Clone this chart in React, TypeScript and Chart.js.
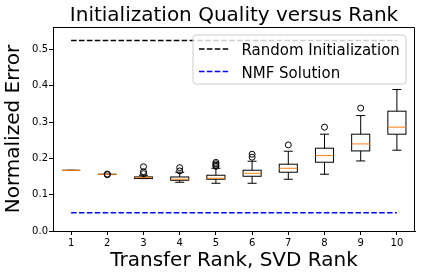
import React, { useEffect, useRef } from 'react';
import { Chart, registerables } from 'chart.js';
Chart.register(...registerables);

const FONT = 'DejaVu Sans';

const ranks = [1, 2, 3, 4, 5, 6, 7, 8, 9, 10];
const whiskerLow = [0.167, 0.156, 0.1445, 0.1343, 0.1315, 0.1315, 0.1426, 0.1564, 0.193, 0.2226];
const q1 = [0.167, 0.156, 0.1445, 0.1398, 0.1426, 0.1508, 0.1619, 0.1895, 0.2206, 0.2667];
const medians = [0.167, 0.156, 0.147, 0.1426, 0.1453, 0.159, 0.1729, 0.2077, 0.2399, 0.286];
const q3 = [0.167, 0.156, 0.149, 0.1489, 0.1536, 0.1674, 0.184, 0.2281, 0.2667, 0.3301];
const whiskerHigh = [0.167, 0.156, 0.1536, 0.1619, 0.1729, 0.1922, 0.2198, 0.2667, 0.318, 0.3897];
const outliers: number[][] = [
  [],
  [0.157, 0.155],
  [0.177, 0.1635, 0.158],
  [0.1746, 0.1655],
  [0.189, 0.185, 0.181, 0.178],
  [0.2115, 0.2033],
  [0.2372],
  [0.286],
  [0.3384],
  [],
];
const randomInit = 0.525;
const nmfSolution = 0.05;
const yTicks = [0, 0.1, 0.2, 0.3, 0.4, 0.5];

const boxPlugin = {
  id: 'boxes',
  beforeDatasetsDraw(chart: any) {
    const { ctx } = chart;
    const xs = chart.scales.x;
    const ys = chart.scales.y;
    ctx.save();
    ranks.forEach((r, i) => {
      const xl = xs.getPixelForValue(r - 0.25);
      const xr = xs.getPixelForValue(r + 0.25);
      const xc = xs.getPixelForValue(r);
      const cl = xs.getPixelForValue(r - 0.125);
      const cr = xs.getPixelForValue(r + 0.125);
      const yq1 = ys.getPixelForValue(q1[i]);
      const yq3 = ys.getPixelForValue(q3[i]);
      const ylo = ys.getPixelForValue(whiskerLow[i]);
      const yhi = ys.getPixelForValue(whiskerHigh[i]);
      const ym = ys.getPixelForValue(medians[i]);
      ctx.strokeStyle = '#000';
      ctx.lineWidth = 1;
      ctx.beginPath();
      // whiskers
      ctx.moveTo(xc, yq1); ctx.lineTo(xc, ylo);
      ctx.moveTo(xc, yq3); ctx.lineTo(xc, yhi);
      // caps
      ctx.moveTo(cl, ylo); ctx.lineTo(cr, ylo);
      ctx.moveTo(cl, yhi); ctx.lineTo(cr, yhi);
      ctx.stroke();
      ctx.strokeRect(xl, yq3, xr - xl, yq1 - yq3);
      ctx.strokeStyle = '#ff7f0e';
      ctx.beginPath();
      ctx.moveTo(xl, ym); ctx.lineTo(xr, ym);
      ctx.stroke();
    });
    ctx.restore();
  },
  afterDraw(chart: any) {
    const { ctx, chartArea } = chart;
    ctx.save();
    // frame top & right
    ctx.strokeStyle = '#000';
    ctx.lineWidth = 1;
    ctx.beginPath();
    const t = Math.round(chartArea.top) + 0.5;
    const r = Math.round(chartArea.right) - 0.5;
    ctx.moveTo(Math.round(chartArea.left), t);
    ctx.lineTo(r, t);
    ctx.lineTo(r, Math.round(chartArea.bottom));
    ctx.stroke();

    // legend
    const w = 213;
    const h = 49;
    const lx = chartArea.right - 9 - w;
    const ly = chartArea.top + 8;
    const rad = 3;
    ctx.beginPath();
    ctx.moveTo(lx + rad, ly);
    ctx.lineTo(lx + w - rad, ly);
    ctx.arcTo(lx + w, ly, lx + w, ly + rad, rad);
    ctx.lineTo(lx + w, ly + h - rad);
    ctx.arcTo(lx + w, ly + h, lx + w - rad, ly + h, rad);
    ctx.lineTo(lx + rad, ly + h);
    ctx.arcTo(lx, ly + h, lx, ly + h - rad, rad);
    ctx.lineTo(lx, ly + rad);
    ctx.arcTo(lx, ly, lx + rad, ly, rad);
    ctx.closePath();
    ctx.fillStyle = 'rgba(255,255,255,0.8)';
    ctx.fill();
    ctx.strokeStyle = '#cccccc';
    ctx.stroke();

    const items = chart.data.datasets.filter((d: any) => d.inLegend);
    items.forEach((d: any, i: number) => {
      const cy = ly + 14 + i * 22.5;
      ctx.strokeStyle = d.borderColor;
      ctx.lineWidth = 1.5;
      ctx.setLineDash([5.5, 2.4]);
      ctx.beginPath();
      ctx.moveTo(lx + 6, cy);
      ctx.lineTo(lx + 36, cy);
      ctx.stroke();
      ctx.setLineDash([]);
      ctx.fillStyle = '#000';
      ctx.font = `15px "${FONT}"`;
      ctx.textBaseline = 'alphabetic';
      ctx.textAlign = 'left';
      ctx.fillText(d.label, lx + 48.5, cy + 6);
    });
    ctx.restore();
  },
};

export default function App() {
  const ref = useRef<HTMLCanvasElement>(null);
  useEffect(() => {
    const outlierPts: { x: number; y: number }[] = [];
    outliers.forEach((arr, i) => arr.forEach((v) => outlierPts.push({ x: ranks[i], y: v })));
    const chart = new Chart(ref.current as HTMLCanvasElement, {
      type: 'line',
      data: {
        datasets: [
          {
            type: 'scatter',
            label: 'outliers',
            data: outlierPts,
            pointStyle: 'circle',
            pointRadius: 3,
            pointBorderColor: '#000',
            pointBackgroundColor: 'rgba(0,0,0,0)',
            pointBorderWidth: 1,
            showLine: false,
          } as any,
          {
            label: 'Random Initialization',
            inLegend: true,
            data: [
              { x: ranks[0], y: randomInit },
              { x: ranks[ranks.length - 1], y: randomInit },
            ],
            borderColor: '#000000',
            borderWidth: 1.5,
            borderDash: [5.5, 2.4],
            pointRadius: 0,
            fill: false,
          } as any,
          {
            label: 'NMF Solution',
            inLegend: true,
            data: [
              { x: ranks[0], y: nmfSolution },
              { x: ranks[ranks.length - 1], y: nmfSolution },
            ],
            borderColor: '#0000ff',
            borderWidth: 1.5,
            borderDash: [5.5, 2.4],
            pointRadius: 0,
            fill: false,
          } as any,
        ],
      },
      options: {
        animation: false,
        responsive: false,
        layout: { padding: { left: 0, right: 9, top: 0, bottom: 0 } },
        plugins: {
          legend: { display: false },
          tooltip: { enabled: false },
          title: {
            display: true,
            text: 'Initialization Quality versus Rank',
            fullSize: false,
            color: '#000',
            font: { family: FONT, size: 20, weight: 'normal', lineHeight: 1 },
            padding: { top: 6, bottom: 1 },
          },
        },
        scales: {
          x: {
            type: 'linear',
            min: 0.5,
            max: 10.5,
            afterBuildTicks: (s: any) => {
              s.ticks = ranks.map((v) => ({ value: v }));
            },
            afterFit: (s: any) => {
              s.height = 47;
            },
            ticks: {
              color: '#000',
              font: { family: FONT, size: 10 },
              padding: 2,
              maxRotation: 0,
              callback: (v: any) => String(v),
            },
            grid: { display: true, drawOnChartArea: false, drawTicks: true, tickLength: 4, color: '#000' },
            border: { display: true, color: '#000', width: 1 },
            title: {
              display: true,
              text: 'Transfer Rank, SVD Rank',
              color: '#000',
              font: { family: FONT, size: 20, lineHeight: 1.2 },
              padding: { top: 0, bottom: 5 },
            },
          },
          y: {
            type: 'linear',
            min: 0,
            max: 0.562,
            afterBuildTicks: (s: any) => {
              s.ticks = yTicks.map((v) => ({ value: v }));
            },
            afterFit: (s: any) => {
              s.width = 53;
            },
            ticks: {
              color: '#000',
              font: { family: FONT, size: 10 },
              padding: 1,
              callback: (v: any) => Number(v).toFixed(1),
            },
            grid: { display: true, drawOnChartArea: false, drawTicks: true, tickLength: 4, color: '#000' },
            border: { display: true, color: '#000', width: 1 },
            title: {
              display: true,
              text: 'Normalized Error',
              color: '#000',
              font: { family: FONT, size: 20, lineHeight: 1.2 },
              padding: { top: 2, bottom: 0 },
            },
          },
        },
      } as any,
      plugins: [boxPlugin],
    });
    return () => chart.destroy();
  }, []);
  return (
    <div style={{ position: 'fixed', left: 0, top: 0, width: 424, height: 278, background: '#fff' }}>
      <canvas ref={ref} width={424} height={278} />
    </div>
  );
}
